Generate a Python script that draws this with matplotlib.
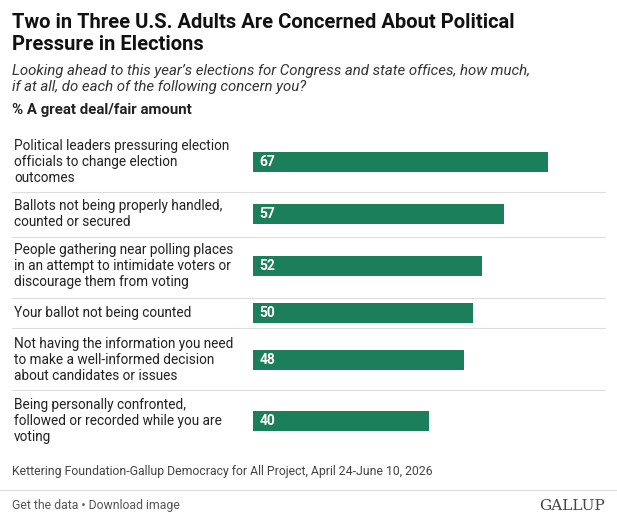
import matplotlib.pyplot as plt
from matplotlib.lines import Line2D

W, H = 617, 527
labels = [
    "Political leaders pressuring election\nofficials to change election\noutcomes",
    "Ballots not being properly handled,\ncounted or secured",
    "People gathering near polling places\nin an attempt to intimidate voters or\ndiscourage them from voting",
    "Your ballot not being counted",
    "Not having the information you need\nto make a well-informed decision\nabout candidates or issues",
    "Being personally confronted,\nfollowed or recorded while you are\nvoting",
]
values = [67, 57, 52, 50, 48, 40]
row_y = [162, 214, 266, 313, 360, 421]
sep_y = [192, 237, 298, 328, 390]

green = "#1a7f5a"
plt.rcParams['font.family'] = ['Roboto', 'DejaVu Sans']

fig = plt.figure(figsize=(W / 100, H / 100), dpi=100)
fx = lambda x: x / W
fy = lambda y: 1 - y / H

# axes in pixel coordinates: x from 253, 4.4 px per unit
ax_top, ax_bot = 130, 455
ax = fig.add_axes([fx(253), fy(ax_bot), fx(600 - 253), (ax_bot - ax_top) / H])
ax.set_xlim(0, (600 - 253) / 4.4)
ax.set_ylim(ax_bot, ax_top)
ax.barh(row_y, values, height=20, color=green, left=0)
for y, v in zip(row_y, values):
    ax.text(1.5, y, str(v), color="white", fontsize=10, fontweight="bold", va="center", ha="left")
ax.axis("off")

for y, lab in zip(row_y, labels):
    fig.text(fx(14), fy(y), lab, fontsize=9.8, va="center", ha="left", color="#222222", linespacing=1.15)
for y in sep_y:
    fig.add_artist(Line2D([fx(12), fx(605)], [fy(y), fy(y)], color="#dddddd", lw=0.8))

fig.text(fx(12), fy(33), "Two in Three U.S. Adults Are Concerned About Political\nPressure in Elections",
         fontsize=14.5, fontweight="bold", va="center", ha="left", color="#111111", linespacing=1.2)
fig.text(fx(12), fy(79), "Looking ahead to this year\u2019s elections for Congress and state offices, how much,\nif at all, do each of the following concern you?",
         fontsize=10.8, style="italic", va="center", ha="left", color="#333333", linespacing=1.15)
fig.text(fx(12), fy(110), "% A great deal/fair amount", fontsize=10.8, fontweight="bold", va="center", ha="left", color="#222222")
fig.text(fx(12), fy(471), "Kettering Foundation-Gallup Democracy for All Project, April 24-June 10, 2026",
         fontsize=8.8, va="center", ha="left", color="#444444")
fig.add_artist(Line2D([0, 1], [fy(490), fy(490)], color="#dddddd", lw=0.8))
fig.text(fx(12), fy(506), "Get the data \u2022 Download image", fontsize=8.8, va="center", ha="left", color="#555555")
fig.text(fx(605), fy(506), "GALLUP", fontsize=11, family="DejaVu Serif", va="center", ha="right", color="#444444")

fig.savefig("out.png", dpi=100)
